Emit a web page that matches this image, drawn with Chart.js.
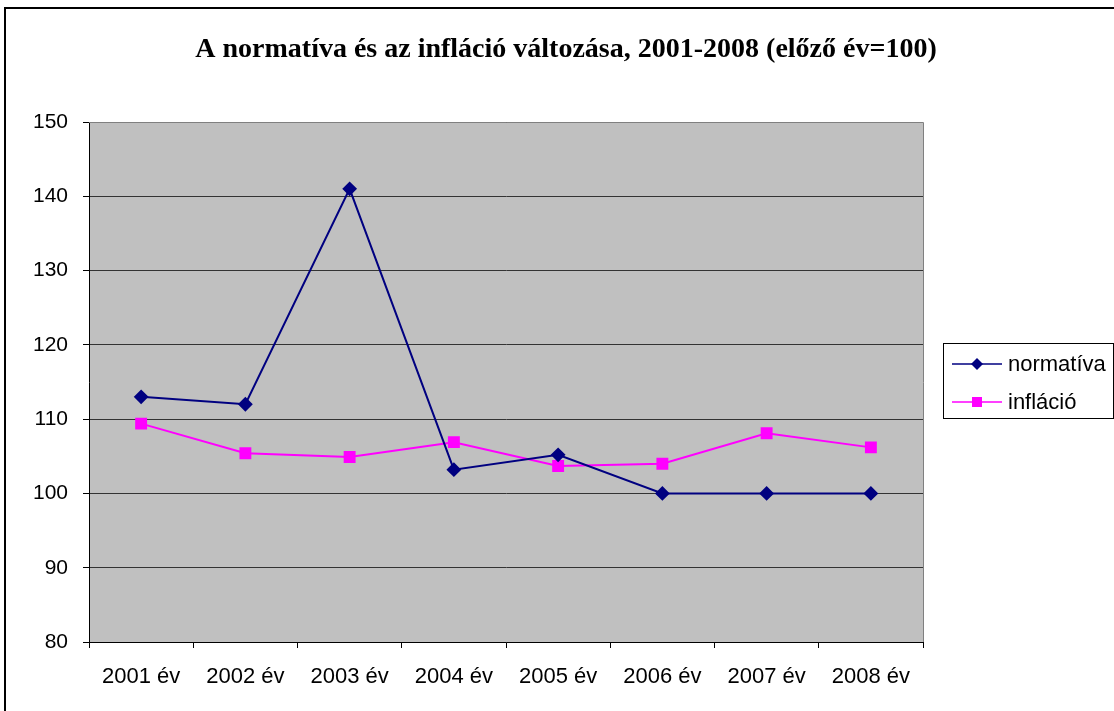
<!DOCTYPE html>
<html>
<head>
<meta charset="utf-8">
<script src="https://cdn.jsdelivr.net/npm/chart.js@4"></script>
<style>
  body { margin: 0; background: #fff; }
  canvas { display: block; }
</style>
</head>
<body>
<canvas id="chart" width="1114" height="711"></canvas>
<script>
// data
const years = ['2001 év', '2002 év', '2003 év', '2004 év', '2005 év', '2006 év', '2007 év', '2008 év'];
const normativa = [113, 112, 141, 103.2, 105.2, 100, 100, 100];
const inflacio = [109.4, 105.4, 104.9, 106.9, 103.7, 104.0, 108.1, 106.2];
const yTicks = [80, 90, 100, 110, 120, 130, 140, 150];

const titleText = 'A normatíva és az infláció változása, 2001-2008 (előző év=100)';

// background, plot area, frame, title and legend
const framePlugin = {
    id: 'frame',
    beforeDraw(chart) {
        const { ctx, chartArea: a } = chart;
        ctx.save();
        ctx.fillStyle = '#fff';
        ctx.fillRect(0, 0, chart.width, chart.height);
        ctx.fillStyle = '#c0c0c0';
        ctx.fillRect(a.left, a.top, a.right - a.left, a.bottom - a.top);
        ctx.restore();
    },
    afterDraw(chart) {
        const { ctx, chartArea: a } = chart;
        ctx.save();
        // outer border
        ctx.strokeStyle = '#000';
        ctx.lineWidth = 2;
        ctx.strokeRect(5, 8, chart.width + 10, chart.height + 10);
        // plot area top/right edge
        ctx.strokeStyle = '#808080';
        ctx.lineWidth = 1;
        ctx.beginPath();
        ctx.moveTo(a.left, a.top + 0.5);
        ctx.lineTo(a.right + 0.5, a.top + 0.5);
        ctx.lineTo(a.right + 0.5, a.bottom);
        ctx.stroke();

        // title
        ctx.fillStyle = '#000';
        ctx.font = 'bold 28px "Liberation Serif", "Times New Roman", serif';
        ctx.textAlign = 'center';
        ctx.textBaseline = 'alphabetic';
        ctx.fillText(titleText, 566, 57);

        // legend
        const lx = 943, ly = 343, lw = 170, lh = 75;
        ctx.fillStyle = '#fff';
        ctx.fillRect(lx, ly, lw, lh);
        ctx.strokeStyle = '#000';
        ctx.strokeRect(lx + 0.5, ly + 0.5, lw, lh);
        ctx.font = '22px "Liberation Sans", Arial, sans-serif';
        ctx.textAlign = 'left';
        ctx.textBaseline = 'middle';
        chart.data.datasets.forEach((ds, i) => {
            const y = ly + 21 + i * 38;
            ctx.strokeStyle = ds.borderColor;
            ctx.lineWidth = 1.5;
            ctx.beginPath();
            ctx.moveTo(lx + 9, y);
            ctx.lineTo(lx + 59, y);
            ctx.stroke();
            ctx.fillStyle = ds.borderColor;
            if (ds.pointStyle === 'rectRot') {
                ctx.beginPath();
                ctx.moveTo(lx + 34, y - 6);
                ctx.lineTo(lx + 40, y);
                ctx.lineTo(lx + 34, y + 6);
                ctx.lineTo(lx + 28, y);
                ctx.closePath();
                ctx.fill();
            } else {
                ctx.fillRect(lx + 29, y - 5, 10, 10);
            }
            ctx.fillStyle = '#000';
            ctx.fillText(ds.label, lx + 65, y + 1);
        });
        ctx.restore();
    }
};

new Chart(document.getElementById('chart'), {
    type: 'line',
    data: {
        labels: years,
        datasets: [{
            label: 'normatíva',
            data: normativa,
            borderColor: '#000080',
            backgroundColor: '#000080',
            borderWidth: 2,
            pointStyle: 'rectRot',
            pointRadius: 6,
            pointHoverRadius: 6,
            tension: 0
        }, {
            label: 'infláció',
            data: inflacio,
            borderColor: '#ff00ff',
            backgroundColor: '#ff00ff',
            borderWidth: 2,
            pointStyle: 'rect',
            pointRadius: 7,
            pointHoverRadius: 7,
            tension: 0
        }]
    },
    options: {
        responsive: false,
        animation: false,
        layout: {
            padding: { left: 0, top: 122, right: 191, bottom: 0 }
        },
        scales: {
            x: {
                offset: true,
                grid: {
                    offset: true,
                    drawOnChartArea: false,
                    color: '#000',
                    tickLength: 6
                },
                border: { color: '#000', width: 1 },
                ticks: {
                    color: '#000',
                    padding: 16,
                    maxRotation: 0,
                    font: { family: '"Liberation Sans", Arial, sans-serif', size: 22 }
                },
                afterFit(scale) { scale.height = 711 - 642; }
            },
            y: {
                min: 80,
                max: 150,
                afterBuildTicks(scale) { scale.ticks = yTicks.map(v => ({ value: v })); },
                grid: {
                    color: '#333',
                    tickLength: 6,
                    tickColor: '#000'
                },
                border: { color: '#000', width: 1 },
                ticks: {
                    color: '#000',
                    padding: 15,
                    font: { family: '"Liberation Sans", Arial, sans-serif', size: 21 }
                },
                afterFit(scale) { scale.width = 89; }
            }
        },
        plugins: {
            legend: { display: false },
            title: { display: false },
            tooltip: { enabled: false }
        }
    },
    plugins: [framePlugin]
});
</script>
</body>
</html>
